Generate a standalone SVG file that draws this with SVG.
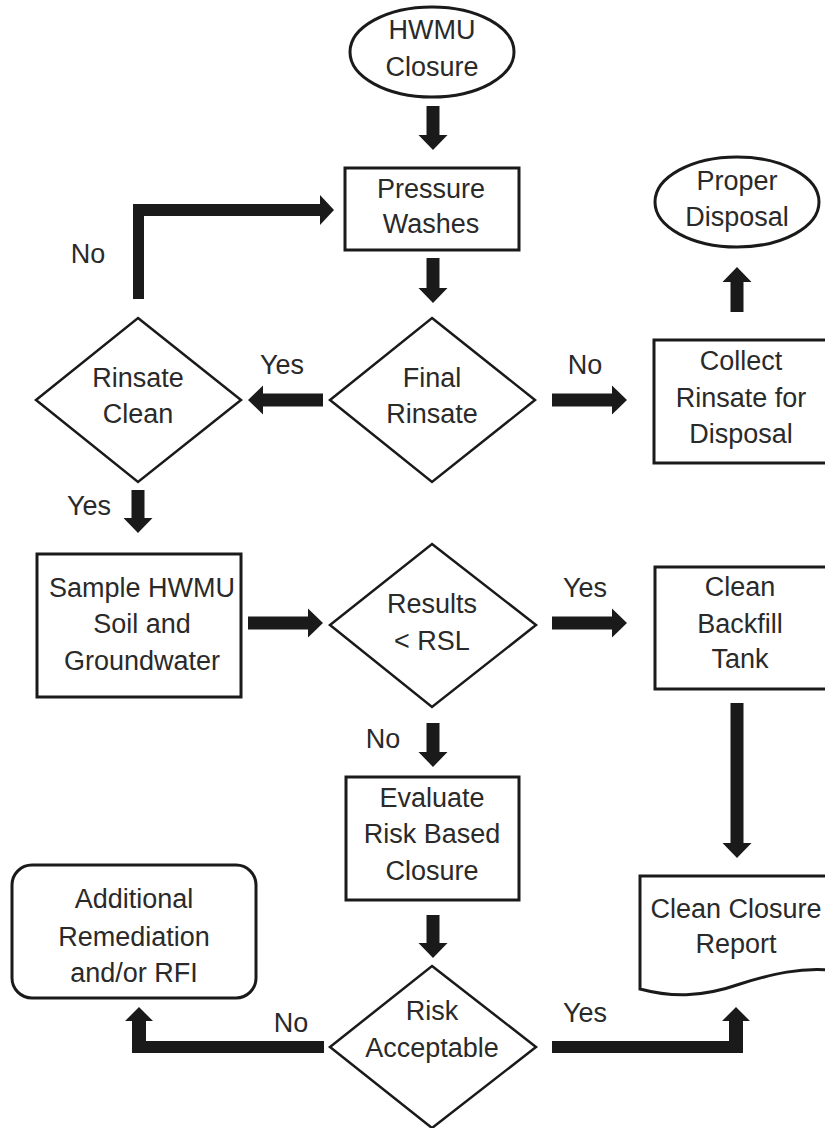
<svg xmlns="http://www.w3.org/2000/svg" width="825" height="1128" viewBox="0 0 825 1128">
<style>
  .shape { fill: #ffffff; stroke: #1a1a1a; stroke-width: 3; }
  .dia { fill: #ffffff; stroke: #1a1a1a; stroke-width: 2.5; }
  .arrow { fill: #1a1a1a; stroke: none; }
  text { font-family: "Liberation Sans", Arial, sans-serif; font-size: 27px; fill: #2a2a2a; text-anchor: middle; }
</style>
<rect x="0" y="0" width="825" height="1128" fill="#ffffff"/>

<g id="connectors">
  <!-- HWMU -> Pressure -->
  <polygon class="arrow" points="426.5,106 439.5,106 439.5,135 447.5,135 433,150 418.5,135 426.5,135"/>
  <!-- Pressure -> Final Rinsate -->
  <polygon class="arrow" points="426.5,258 439.5,258 439.5,288 447.5,288 433,303 418.5,288 426.5,288"/>
  <!-- Final -> Rinsate Clean (Yes) -->
  <polygon class="arrow" points="323,393.5 323,406.5 263,406.5 263,414.5 248,400 263,385.5 263,393.5"/>
  <!-- Final -> Collect (No) -->
  <polygon class="arrow" points="552,393.5 552,406.5 612,406.5 612,414.5 627,400 612,385.5 612,393.5"/>
  <!-- Collect -> Proper Disposal -->
  <polygon class="arrow" points="730.5,312 743.5,312 743.5,282 751.5,282 737,267 722.5,282 730.5,282"/>
  <!-- Rinsate Clean No loop -> Pressure -->
  <polygon class="arrow" points="133,299 133,204 320,204 320,195 334,210 320,225 320,216 144,216 144,299"/>
  <!-- Rinsate Clean -> Sample (Yes) -->
  <polygon class="arrow" points="131.5,490 144.5,490 144.5,518 152.5,518 138,533 123.5,518 131.5,518"/>
  <!-- Sample -> Results -->
  <polygon class="arrow" points="248,616.5 248,629.5 308,629.5 308,637.5 323,623 308,608.5 308,616.5"/>
  <!-- Results -> Clean Backfill (Yes) -->
  <polygon class="arrow" points="552,616.5 552,629.5 612,629.5 612,637.5 627,623 612,608.5 612,616.5"/>
  <!-- Results -> Evaluate (No) -->
  <polygon class="arrow" points="426.5,723 439.5,723 439.5,752 447.5,752 433,767 418.5,752 426.5,752"/>
  <!-- Clean Backfill -> Report -->
  <polygon class="arrow" points="730.5,703 743.5,703 743.5,843 751.5,843 737,858 722.5,843 730.5,843"/>
  <!-- Evaluate -> Risk Acceptable -->
  <polygon class="arrow" points="426.5,915 439.5,915 439.5,943 447.5,943 433,958 418.5,943 426.5,943"/>
  <!-- Risk No -> Additional -->
  <polygon class="arrow" points="324,1041 324,1053 132,1053 132,1021 125,1021 139,1007 153,1021 146,1021 146,1041"/>
  <!-- Risk Yes -> Report -->
  <polygon class="arrow" points="552,1041 552,1053 743,1053 743,1021 750,1021 736,1007 722,1021 729,1021 729,1041"/>
</g>

<g id="n-hwmu">
  <ellipse class="shape" cx="432" cy="52" rx="82" ry="45"/>
  <text x="432" y="39">HWMU</text>
  <text x="432" y="76">Closure</text>
</g>

<g id="n-pressure">
  <rect class="shape" x="345" y="168" width="174" height="82"/>
  <text x="431" y="198">Pressure</text>
  <text x="431" y="233">Washes</text>
</g>

<g id="n-proper">
  <ellipse class="shape" cx="737" cy="202" rx="82" ry="45"/>
  <text x="737" y="190">Proper</text>
  <text x="737" y="226">Disposal</text>
</g>

<g id="n-final">
  <polygon class="dia" points="432,318 535,400 432,482 330,400"/>
  <text x="432" y="387">Final</text>
  <text x="432" y="423">Rinsate</text>
</g>

<g id="n-rinsateclean">
  <polygon class="dia" points="138,318 241,400 138,482 36,400"/>
  <text x="138" y="387">Rinsate</text>
  <text x="138" y="423">Clean</text>
</g>

<g id="n-collect">
  <rect class="shape" x="654" y="340" width="175" height="123"/>
  <text x="741" y="370">Collect</text>
  <text x="741" y="407">Rinsate for</text>
  <text x="741" y="443">Disposal</text>
</g>

<g id="n-sample">
  <rect class="shape" x="37" y="554" width="204" height="143"/>
  <text x="142" y="597">Sample HWMU</text>
  <text x="142" y="633">Soil and</text>
  <text x="142" y="670">Groundwater</text>
</g>

<g id="n-results">
  <polygon class="dia" points="432,544 536,625 432,707 330,625"/>
  <text x="432" y="613">Results</text>
  <text x="432" y="650">&lt; RSL</text>
</g>

<g id="n-backfill">
  <rect class="shape" x="655" y="567" width="174" height="122"/>
  <text x="740" y="596">Clean</text>
  <text x="740" y="633">Backfill</text>
  <text x="740" y="668">Tank</text>
</g>

<g id="n-evaluate">
  <rect class="shape" x="346" y="777" width="173" height="123"/>
  <text x="432" y="807">Evaluate</text>
  <text x="432" y="843">Risk Based</text>
  <text x="432" y="880">Closure</text>
</g>

<g id="n-additional">
  <rect class="shape" x="12" y="865" width="244" height="133" rx="20" ry="20"/>
  <text x="134" y="908">Additional</text>
  <text x="134" y="946">Remediation</text>
  <text x="134" y="982">and/or RFI</text>
</g>

<g id="n-report">
  <path class="shape" d="M640,876 H829 V970 C800,968 775,973 740,984 C700,998 670,997 640,989 Z"/>
  <text x="736" y="918">Clean Closure</text>
  <text x="736" y="953">Report</text>
</g>

<g id="n-risk">
  <polygon class="dia" points="432,966 536,1047 432,1128 330,1047"/>
  <text x="432" y="1020">Risk</text>
  <text x="432" y="1057">Acceptable</text>
</g>

<g id="labels">
  <text x="88" y="263">No</text>
  <text x="282" y="374">Yes</text>
  <text x="585" y="374">No</text>
  <text x="89" y="515">Yes</text>
  <text x="585" y="597">Yes</text>
  <text x="383" y="748">No</text>
  <text x="291" y="1032">No</text>
  <text x="585" y="1022">Yes</text>
</g>
</svg>
